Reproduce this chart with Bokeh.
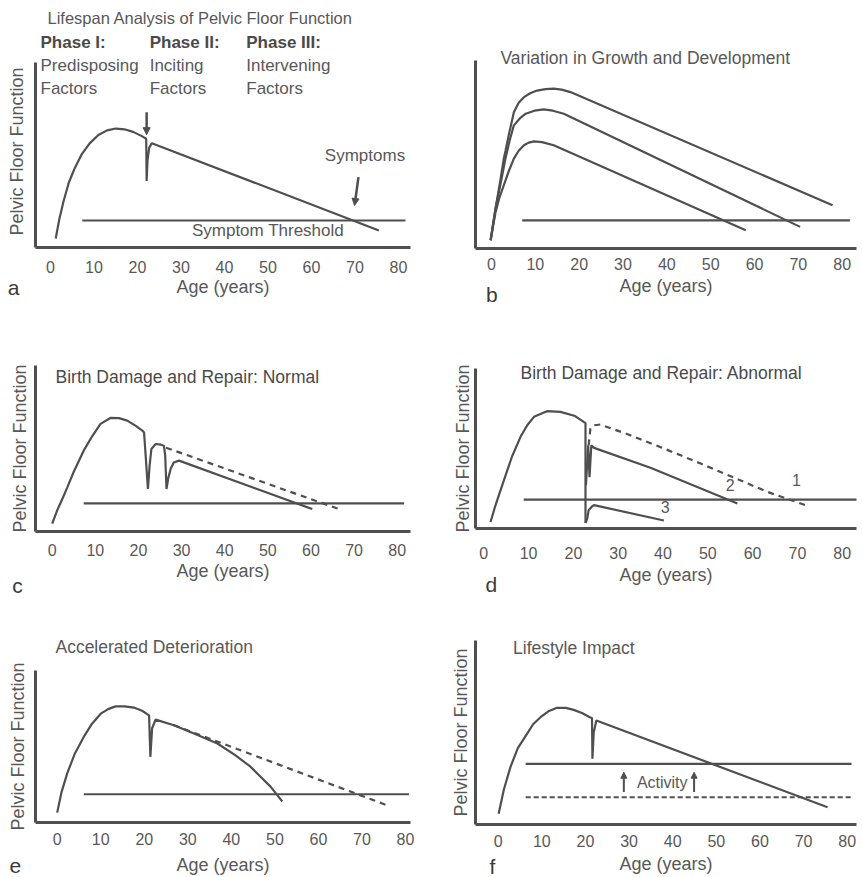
import math
from bokeh.plotting import figure
from bokeh.layouts import column, row
from bokeh.models import Label, Arrow, NormalHead, FixedTicker, Range1d
from bokeh.embed import file_html
from bokeh.resources import INLINE

FONT = "Liberation Sans"
INK = "#4f4f4f"
TXT = "#585858"

AGE_TICKS = [0, 10, 20, 30, 40, 50, 60, 70, 80]
X_LABEL = "Age (years)"
Y_LABEL = "Pelvic Floor Function"

# ---- panel a: lifespan analysis ----
A_AGE = [1.2, 2.0, 3.0, 4.2, 5.6, 7.2, 9.0, 11.0, 13.0, 15.0, 17.0, 19.0, 21.0, 22.0, 22.1, 22.3, 22.7, 23.3, 75.5]
A_FN = [4.9, 15.0, 25.0, 35.0, 43.0, 50.5, 56.3, 60.8, 63.3, 64.3, 63.9, 62.5, 60.2, 58.8, 36.0, 47.0, 54.0, 56.4, 9.2]
A_THRESH_AGE = [7.3, 81.6]
A_THRESH_FN = [14.6, 14.6]

# ---- panel b: growth and development ----
B1_AGE = [-0.2, 0.9, 2.0, 2.8, 3.2, 4.0, 5.1, 6.2, 7.4, 8.8, 10.4, 12.3, 14.2, 16.0, 18.0, 77.8]
B1_FN = [4.4, 21.0, 36.0, 47.8, 52.0, 61.0, 72.5, 77.5, 80.5, 82.6, 84.0, 84.8, 85.0, 84.5, 83.2, 23.0]
B2_AGE = [-0.2, 0.9, 2.0, 3.2, 4.2, 5.1, 6.6, 7.8, 9.8, 11.9, 14.0, 16.5, 70.4]
B2_FN = [4.4, 21.0, 33.6, 48.0, 58.0, 65.5, 69.5, 71.7, 73.3, 74.0, 73.3, 71.7, 11.5]
B3_AGE = [-0.2, 0.9, 1.8, 2.8, 4.0, 5.1, 6.2, 7.4, 8.5, 9.7, 11.5, 14.2, 58.0]
B3_FN = [4.4, 19.0, 27.0, 33.6, 41.5, 47.8, 52.0, 54.9, 56.3, 57.0, 56.6, 54.9, 9.7]
B_THRESH_AGE = [7.0, 81.8]
B_THRESH_FN = [15.0, 15.0]

# ---- panel c: birth damage, normal repair ----
C_AGE = [0.0, 1.2, 2.5, 3.5, 5.0, 7.3, 9.3, 11.2, 13.5, 15.5, 17.4, 19.3, 20.9, 21.3, 22.2, 22.6, 23.0, 24.0, 25.2, 25.9, 26.2, 26.5, 26.9, 27.5, 28.2, 29.4, 60.3]
C_FN = [4.8, 13.0, 20.5, 26.6, 36.0, 48.7, 57.5, 64.8, 68.4, 68.3, 66.8, 63.8, 60.8, 59.7, 25.6, 40.0, 49.7, 52.7, 52.3, 51.7, 46.0, 25.6, 32.0, 38.0, 41.6, 42.7, 13.5]
C_DASH_AGE = [26.4, 66.5]
C_DASH_FN = [50.5, 13.5]
C_THRESH_AGE = [7.3, 81.6]
C_THRESH_FN = [16.9, 16.9]

# ---- panel d: birth damage, abnormal repair ----
D_AGE = [1.5, 2.5, 3.5, 4.5, 6.3, 8.2, 9.7, 11.2, 14.1, 17.1, 20.2, 22.3, 22.7, 22.7]
D_FN = [4.1, 13.5, 22.0, 30.2, 45.0, 57.3, 64.5, 69.8, 73.3, 72.9, 70.5, 66.6, 66.0, 3.5]
D1_AGE = [23.4, 23.8, 24.6, 26.0, 29.0, 32.7, 40.2, 48.4, 55.4, 63.3, 71.8]
D1_FN = [52.0, 62.5, 64.5, 65.0, 62.0, 58.3, 50.0, 40.6, 32.3, 22.9, 14.6]
D2_AGE = [22.8, 23.3, 23.6, 24.0, 24.6, 37.2, 56.6]
D2_FN = [27.0, 52.0, 32.0, 52.0, 50.4, 38.0, 15.6]
D3_AGE = [22.7, 23.1, 23.4, 24.2, 24.6, 40.2]
D3_FN = [3.5, 6.2, 11.4, 13.9, 14.6, 5.0]
D_THRESH_AGE = [8.9, 83.3]
D_THRESH_FN = [18.1, 18.1]

# ---- panel e: accelerated deterioration ----
E_AGE = [0.0, 1.0, 2.3, 4.0, 6.1, 8.0, 10.0, 11.7, 13.4, 15.5, 17.6, 19.5, 21.1, 21.4, 21.8, 22.6, 26.8, 31.0, 36.8, 40.8, 44.4, 47.0, 49.0, 50.5, 51.7]
E_FN = [6.5, 20.0, 32.3, 45.0, 56.3, 65.0, 71.6, 74.6, 76.4, 76.4, 75.6, 73.5, 70.5, 43.2, 62.0, 67.7, 64.0, 59.0, 52.0, 44.5, 36.7, 29.3, 23.6, 18.2, 13.8]
E_DASH_AGE = [26.8, 75.5]
E_DASH_FN = [64.0, 11.6]
E_THRESH_AGE = [6.1, 80.8]
E_THRESH_FN = [18.6, 18.6]

# ---- panel f: lifestyle impact ----
F_AGE = [0.1, 1.3, 2.8, 4.5, 6.6, 8.0, 9.7, 11.5, 13.5, 15.5, 17.3, 19.2, 21.0, 21.5, 21.6, 21.9, 22.5, 75.5]
F_FN = [5.8, 19.0, 31.2, 41.5, 49.3, 54.5, 58.3, 61.5, 63.4, 63.4, 62.3, 60.6, 58.3, 57.9, 35.7, 50.0, 56.5, 9.4]
F_THRESH_AGE = [6.3, 81.0]
F_THRESH_FN = [33.0, 33.0]
F_LOW_THRESH_FN = [14.8, 14.8]
F_ARROW_AGE = [28.8, 44.9]
F_ARROW_FROM = 17.6
F_ARROW_TO = 28.4


def panel(w, h, L, R, T, B, axis_top, zero_px, p80_px, ylabel, tick_sd, lab_sd, ylab_sd):
    scale = (p80_px - zero_px) / 80.0
    x0 = (L - zero_px) / scale
    x1 = (R - zero_px) / scale
    y1 = 100.0 * (B - T) / (B - axis_top)
    p = figure(width=w, height=h, output_backend="svg", toolbar_location=None,
               x_range=Range1d(x0, x1), y_range=Range1d(0, y1),
               min_border_left=L, min_border_right=w - R,
               min_border_top=T, min_border_bottom=h - B)
    p.outline_line_color = None
    p.grid.visible = False
    p.xaxis.ticker = FixedTicker(ticks=AGE_TICKS)
    p.yaxis.ticker = FixedTicker(ticks=[])
    p.yaxis.bounds = (0, 100)
    for ax in (p.xaxis, p.yaxis):
        ax.axis_line_color = INK
        ax.axis_line_width = 3
        ax.major_tick_line_color = None
        ax.minor_tick_line_color = None
        ax.major_tick_out = 0
        ax.minor_tick_out = 0
        ax.major_tick_in = 0
        ax.minor_tick_in = 0
        ax.major_label_text_font = FONT
        ax.major_label_text_font_size = "16px"
        ax.major_label_text_color = TXT
        ax.axis_label_text_font = FONT
        ax.axis_label_text_font_size = "18px"
        ax.axis_label_text_font_style = "normal"
        ax.axis_label_text_color = TXT
    p.xaxis.major_label_standoff = tick_sd
    p.xaxis.axis_label = X_LABEL
    p.xaxis.axis_label_standoff = lab_sd
    p.yaxis.major_label_standoff = 0
    if ylabel:
        p.yaxis.axis_label = ylabel
        p.yaxis.axis_label_standoff = ylab_sd
    return p


def lab(p, x, y, text, size="17px", align="left", style="normal", color=TXT,
        baseline="middle", place="center", angle=0.0):
    lb = Label(x=x, y=y, text=text, text_font=FONT, text_font_size=size,
               text_align=align, text_baseline=baseline, angle=angle,
               text_font_style=style, text_color=color)
    p.add_layout(lb, place)


def arrow(p, xs, ys, xe, ye, size=7, width=2.5):
    p.add_layout(Arrow(end=NormalHead(size=size, fill_color=INK, line_color=INK),
                       x_start=xs, y_start=ys, x_end=xe, y_end=ye,
                       line_color=INK, line_width=width))


def letter(p, x, y, t, place):
    lab(p, x, y, t, size="21px", align="center", color="#3a3a3a", place=place)


LW = 2.2
LEFT_L, LEFT_R = 35, 410
RIGHT_L, RIGHT_R = 44, 425

# panel a (frame reaches up to the phase headings; its y label is centred on the axis line)
pa = panel(431, 300, LEFT_L, LEFT_R, 30, 247, 62, 50, 398, None, 13, 1, 8)
pa.line(A_AGE, A_FN, line_color=INK, line_width=LW)
pa.line(A_THRESH_AGE, A_THRESH_FN, line_color=INK, line_width=LW)
lab(pa, -7.6, 51.9, Y_LABEL, size="18px", align="center", place="left", angle=math.pi / 2)
lab(pa, -0.7, 123.8, "Lifespan Analysis of Pelvic Floor Function", size="16.5px", place="above")
for xa, h1, t1, t2 in [(-2.3, "Phase I:", "Predisposing", "Factors"),
                       (22.8, "Phase II:", "Inciting", "Factors"),
                       (45.0, "Phase III:", "Intervening", "Factors")]:
    lab(pa, xa, 110.8, h1, style="bold", color="#4a4a4a")
    lab(pa, xa, 98.4, t1)
    lab(pa, xa, 86.0, t2)
lab(pa, 50.0, 9.2, "Symptom Threshold", align="center")
lab(pa, 72.3, 49.7, "Symptoms", align="center")
arrow(pa, 22.1, 73.1, 22.1, 61.0)
arrow(pa, 70.8, 38.0, 69.9, 22.7)
letter(pa, -8.5, -21.4, "a", "right")

# panel b
pb = panel(431, 306, RIGHT_L, RIGHT_R, 60, 248, 60, 60, 410.7, None, 9, 3, 0)
for xs, ys in [(B1_AGE, B1_FN), (B2_AGE, B2_FN), (B3_AGE, B3_FN), (B_THRESH_AGE, B_THRESH_FN)]:
    pb.line(xs, ys, line_color=INK, line_width=LW)
lab(pb, 2.05, 101.1, "Variation in Growth and Development", size="17.5px", place="above")
letter(pb, 0.1, -24.3, "b", "left")

# panel c
pc = panel(431, 310, LEFT_L, LEFT_R, 65, 231, 65, 51.7, 396.7, Y_LABEL, 12, 2, 6)
pc.line(C_AGE, C_FN, line_color=INK, line_width=LW)
pc.line(C_DASH_AGE, C_DASH_FN, line_color=INK, line_width=LW, line_dash="6 5")
pc.line(C_THRESH_AGE, C_THRESH_FN, line_color=INK, line_width=LW)
lab(pc, 0.77, 92.9, "Birth Damage and Repair: Normal", size="17.5px", color="#4a4a4a")
letter(pc, -8.05, -32.8, "c", "right")

# panel d
pd_ = panel(431, 304, RIGHT_L, RIGHT_R, 62, 222, 62, 52.3, 410.7, Y_LABEL, 18, 3, 3)
pd_.line(D_AGE, D_FN, line_color=INK, line_width=LW)
pd_.line(D1_AGE, D1_FN, line_color=INK, line_width=LW, line_dash="6 5")
pd_.line(D2_AGE, D2_FN, line_color=INK, line_width=LW)
pd_.line(D3_AGE, D3_FN, line_color=INK, line_width=LW)
pd_.line(D_THRESH_AGE, D_THRESH_FN, line_color=INK, line_width=LW)
lab(pd_, 8.2, 97.5, "Birth Damage and Repair: Abnormal", size="17.5px", color="#4a4a4a", place="above")
lab(pd_, 69.8, 30.2, "1", size="16px", align="center")
lab(pd_, 55.0, 27.0, "2", size="16px", align="center")
lab(pd_, 40.5, 13.5, "3", size="16px", align="center")
letter(pd_, 1.7, -34.8, "d", "below")

# panel e
pe = panel(431, 267, LEFT_L, LEFT_R, 60, 213, 60, 56.7, 405, Y_LABEL, 10, 7, 8)
pe.line(E_AGE, E_FN, line_color=INK, line_width=LW)
pe.line(E_DASH_AGE, E_DASH_FN, line_color=INK, line_width=LW, line_dash="6 5")
pe.line(E_THRESH_AGE, E_THRESH_FN, line_color=INK, line_width=LW)
lab(pe, -0.4, 115.3, "Accelerated Deterioration", size="17.5px", place="above")
letter(pe, -9.6, -28.4, "e", "right")

# panel f
pf = panel(431, 267, RIGHT_L, RIGHT_R, 30, 214, 30, 66.7, 415.7, Y_LABEL, 10, 4, 5)
pf.line(F_AGE, F_FN, line_color=INK, line_width=LW)
pf.line(F_THRESH_AGE, F_THRESH_FN, line_color=INK, line_width=LW)
pf.line(F_THRESH_AGE, F_LOW_THRESH_FN, line_color=INK, line_width=LW, line_dash="5 3")
for xa in F_ARROW_AGE:
    arrow(pf, xa, F_ARROW_FROM, xa, F_ARROW_TO, size=6, width=2)
lab(pf, 37.6, 23.0, "Activity", size="16px", align="center")
lab(pf, 3.4, 96.0, "Lifestyle Impact", size="17.5px", place="above")
letter(pf, -1.3, -23.0, "f", "left")

layout = row(column(pa, pc, pe), column(pb, pd_, pf))
open("out.html", "w").write(file_html(layout, INLINE))
